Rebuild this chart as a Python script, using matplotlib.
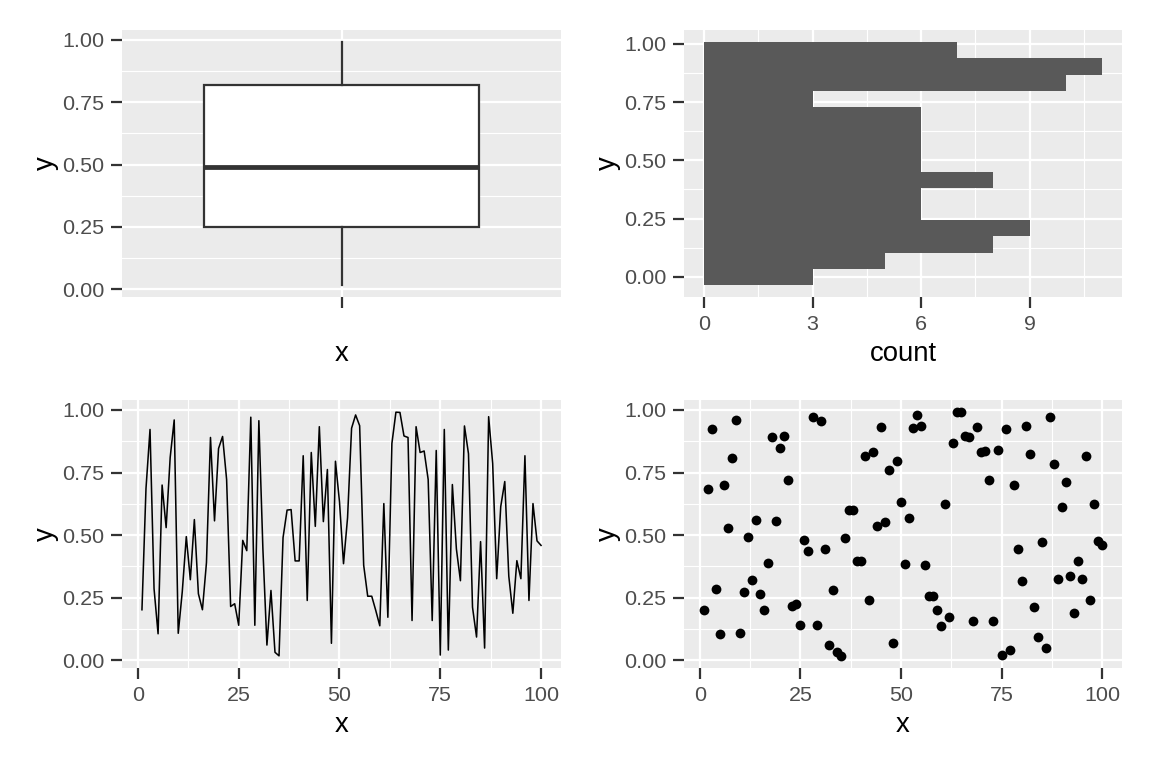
import numpy as np
import matplotlib
matplotlib.use("Agg")
from matplotlib import pyplot as plt

# data: y value for x = 1..100
x_vals = np.arange(1, 101)
y_vals = np.array([
	0.202, 0.686, 0.922, 0.286, 0.106, 0.700, 0.530, 0.810, 0.960, 0.108,
	0.274, 0.494, 0.322, 0.562, 0.266, 0.202, 0.390, 0.890, 0.557, 0.846,
	0.894, 0.722, 0.215, 0.226, 0.140, 0.479, 0.438, 0.971, 0.140, 0.957,
	0.445, 0.061, 0.279, 0.032, 0.018, 0.490, 0.600, 0.602, 0.397, 0.397,
	0.817, 0.239, 0.830, 0.535, 0.933, 0.554, 0.762, 0.068, 0.795, 0.633,
	0.386, 0.569, 0.927, 0.980, 0.937, 0.380, 0.256, 0.256, 0.199, 0.138,
	0.626, 0.172, 0.866, 0.991, 0.990, 0.896, 0.890, 0.159, 0.933, 0.830,
	0.836, 0.722, 0.159, 0.838, 0.021, 0.922, 0.041, 0.702, 0.445, 0.318,
	0.936, 0.825, 0.212, 0.093, 0.474, 0.049, 0.973, 0.786, 0.326, 0.614,
	0.714, 0.336, 0.188, 0.398, 0.326, 0.817, 0.239, 0.626, 0.477, 0.459,
])
n_bins = 15

y_ticks = [0.0, 0.25, 0.5, 0.75, 1.0]
y_ticklabels = ["0.00", "0.25", "0.50", "0.75", "1.00"]
x_ticks = [0, 25, 50, 75, 100]
count_ticks = [0, 3, 6, 9]

plt.rcParams['font.family'] = ['Liberation Sans', 'DejaVu Sans']

GREY_BG = "#EBEBEB"
TICK_COL = "#333333"
TEXT_COL = "#4D4D4D"
TICK_SIZE = 10.3
TITLE_SIZE = 13.2


def gg_style(ax):
	"""theme_grey look-alike"""
	ax.set_facecolor(GREY_BG)
	for s in ax.spines.values():
		s.set_visible(False)
	ax.set_axisbelow(True)
	ax.tick_params(axis="both", which="major", length=5.5, width=1.07,
		color=TICK_COL, labelcolor=TEXT_COL, labelsize=TICK_SIZE, pad=3)
	ax.tick_params(axis="both", which="minor", length=0)
	ax.grid(which="major", color="white", lw=1.07)
	ax.grid(which="minor", color="white", lw=0.53)


def pad(lo, hi, frac=0.05):
	d = (hi - lo) * frac
	return lo - d, hi + d


fig = plt.figure(figsize=(7.68, 5.12), dpi=150)
W, H = 1152, 768


def add_panel(l, t, r, b):
	return fig.add_axes([l / W, 1 - b / H, (r - l) / W, (b - t) / H])


ax_box = add_panel(122, 30, 561, 297)
ax_hist = add_panel(684, 30, 1122, 297)
ax_line = add_panel(122, 400, 561, 668)
ax_pts = add_panel(684, 400, 1122, 668)

ylim = pad(y_vals.min(), y_vals.max())

# boxplot
gg_style(ax_box)
ax_box.boxplot(y_vals, positions=[1], widths=0.75, patch_artist=True,
	showfliers=False, showcaps=False,
	boxprops=dict(facecolor="white", edgecolor=TICK_COL, lw=1.07),
	whiskerprops=dict(color=TICK_COL, lw=1.07),
	medianprops=dict(color=TICK_COL, lw=2.3, solid_capstyle="butt"))
ax_box.set_xlim(0.4, 1.6)
ax_box.set_xticks([1])
ax_box.set_xticklabels([" "])
ax_box.set_ylim(*ylim)
ax_box.set_xlabel("x", fontsize=TITLE_SIZE, labelpad=3.5)

# histogram, bins like ggplot (centred on multiples of the width)
gg_style(ax_hist)
bw = np.ptp(y_vals) / (n_bins - 1)
k0 = np.floor((y_vals.min() - bw / 2) / bw)
edges = bw / 2 + bw * (k0 + np.arange(n_bins + 1))
counts, _, _ = ax_hist.hist(y_vals, bins=edges, orientation="horizontal",
	color="#595959")
ax_hist.set_xlim(*pad(0, counts.max()))
ax_hist.set_ylim(*pad(edges[0], edges[-1]))
ax_hist.set_xticks(count_ticks)
ax_hist.set_xticks([1.5, 4.5, 7.5, 10.5], minor=True)
ax_hist.set_xlabel("count", fontsize=TITLE_SIZE, labelpad=3.5)

# line
gg_style(ax_line)
ax_line.plot(x_vals, y_vals, color="black", lw=0.75)

# points
gg_style(ax_pts)
ax_pts.plot(x_vals, y_vals, "o", color="black", ms=4.7, mec="none")

for ax in (ax_line, ax_pts):
	ax.set_xlim(*pad(x_vals.min(), x_vals.max()))
	ax.set_ylim(*ylim)
	ax.set_xticks(x_ticks)
	ax.set_xticks([12.5, 37.5, 62.5, 87.5], minor=True)
	ax.set_xlabel("x", fontsize=TITLE_SIZE, labelpad=3.5)

for ax in (ax_box, ax_hist, ax_line, ax_pts):
	ax.set_yticks(y_ticks)
	ax.set_yticklabels(y_ticklabels)
	ax.set_yticks([0.125, 0.375, 0.625, 0.875], minor=True)
	ax.set_ylabel("y", fontsize=TITLE_SIZE, labelpad=1.5)

fig.savefig("out.png", dpi=150, facecolor="white")
